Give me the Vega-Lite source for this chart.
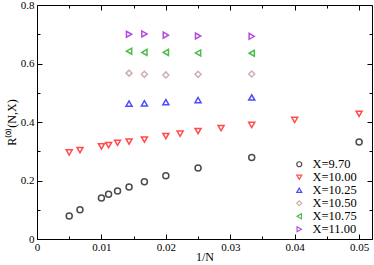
{
  "$schema": "https://vega.github.io/schema/vega-lite/v6.json",
  "autosize": "none",
  "padding": {"left": 37, "top": 5, "right": 2, "bottom": 26},
  "width": 335,
  "height": 234,
  "config": {
    "view": {"stroke": "black", "strokeWidth": 1},
    "font": "Liberation Serif",
    "axis": {"labelFont": "Liberation Serif", "titleFont": "Liberation Serif", "labelColor": "black", "titleColor": "black", "domainColor": "black", "tickColor": "black", "labelFontSize": 11, "titleFontSize": 12, "titleFontWeight": "normal", "grid": false},
    "legend": {"labelFont": "Liberation Serif", "labelFontSize": 12.5, "labelColor": "black", "symbolSize": 25, "symbolStrokeWidth": 1.2, "rowPadding": 0, "labelOffset": 7}
  },
  "data": {"values": [
    {"invN": 0.005, "R": 0.0785, "s": "X=9.70"},
    {"invN": 0.00667, "R": 0.100, "s": "X=9.70"},
    {"invN": 0.01, "R": 0.140, "s": "X=9.70"},
    {"invN": 0.01111, "R": 0.153, "s": "X=9.70"},
    {"invN": 0.0125, "R": 0.164, "s": "X=9.70"},
    {"invN": 0.01429, "R": 0.178, "s": "X=9.70"},
    {"invN": 0.01667, "R": 0.196, "s": "X=9.70"},
    {"invN": 0.02, "R": 0.216, "s": "X=9.70"},
    {"invN": 0.025, "R": 0.243, "s": "X=9.70"},
    {"invN": 0.03333, "R": 0.279, "s": "X=9.70"},
    {"invN": 0.05, "R": 0.332, "s": "X=9.70"},
    {"invN": 0.005, "R": 0.296, "s": "X=10.00"},
    {"invN": 0.00667, "R": 0.304, "s": "X=10.00"},
    {"invN": 0.01, "R": 0.317, "s": "X=10.00"},
    {"invN": 0.01111, "R": 0.321, "s": "X=10.00"},
    {"invN": 0.0125, "R": 0.329, "s": "X=10.00"},
    {"invN": 0.01429, "R": 0.333, "s": "X=10.00"},
    {"invN": 0.01667, "R": 0.340, "s": "X=10.00"},
    {"invN": 0.02, "R": 0.352, "s": "X=10.00"},
    {"invN": 0.02222, "R": 0.360, "s": "X=10.00"},
    {"invN": 0.025, "R": 0.369, "s": "X=10.00"},
    {"invN": 0.02857, "R": 0.379, "s": "X=10.00"},
    {"invN": 0.03333, "R": 0.390, "s": "X=10.00"},
    {"invN": 0.04, "R": 0.407, "s": "X=10.00"},
    {"invN": 0.05, "R": 0.428, "s": "X=10.00"},
    {"invN": 0.01429, "R": 0.463, "s": "X=10.25"},
    {"invN": 0.01667, "R": 0.464, "s": "X=10.25"},
    {"invN": 0.02, "R": 0.468, "s": "X=10.25"},
    {"invN": 0.025, "R": 0.475, "s": "X=10.25"},
    {"invN": 0.03333, "R": 0.484, "s": "X=10.25"},
    {"invN": 0.01429, "R": 0.567, "s": "X=10.50"},
    {"invN": 0.01667, "R": 0.563, "s": "X=10.50"},
    {"invN": 0.02, "R": 0.561, "s": "X=10.50"},
    {"invN": 0.025, "R": 0.563, "s": "X=10.50"},
    {"invN": 0.03333, "R": 0.564, "s": "X=10.50"},
    {"invN": 0.01429, "R": 0.642, "s": "X=10.75"},
    {"invN": 0.01667, "R": 0.638, "s": "X=10.75"},
    {"invN": 0.02, "R": 0.638, "s": "X=10.75"},
    {"invN": 0.025, "R": 0.636, "s": "X=10.75"},
    {"invN": 0.03333, "R": 0.635, "s": "X=10.75"},
    {"invN": 0.01429, "R": 0.700, "s": "X=11.00"},
    {"invN": 0.01667, "R": 0.701, "s": "X=11.00"},
    {"invN": 0.02, "R": 0.697, "s": "X=11.00"},
    {"invN": 0.025, "R": 0.694, "s": "X=11.00"},
    {"invN": 0.03333, "R": 0.693, "s": "X=11.00"}
  ]},
  "resolve": {"axis": {"x": "independent", "y": "independent"}},
  "layer": [
    {
      "mark": {"type": "point", "filled": false, "strokeWidth": 1.5, "size": 36},
      "encoding": {
        "x": {"field": "invN", "type": "quantitative", "scale": {"domain": [0, 0.052], "nice": false, "zero": false},
          "axis": {"orient": "bottom", "title": "1/N", "values": [0, 0.005, 0.01, 0.015, 0.02, 0.025, 0.03, 0.035, 0.04, 0.045, 0.05],
            "labelExpr": "(round(datum.value*1000) % 10 == 0) ? (datum.value == 0 ? '0' : format(datum.value, '.2f')) : ''",
            "tickSize": {"condition": {"test": "round(datum.value*1000) % 10 != 0", "value": -3}, "value": -5},
            "labelPadding": 7, "titlePadding": 0, "titleBaseline": "bottom", "titleY": 24, "domain": false, "labelFlush": false}},
        "y": {"field": "R", "type": "quantitative", "scale": {"domain": [0, 0.8], "nice": false},
          "axis": {"orient": "left", "title": "R⁽⁰⁾(N,X)", "values": [0, 0.1, 0.2, 0.3, 0.4, 0.5, 0.6, 0.7, 0.8],
            "labelExpr": "(round(datum.value*10) % 2 == 0) ? (datum.value == 0 ? '0' : format(datum.value, '.1f')) : ''",
            "tickSize": {"condition": {"test": "round(datum.value*10) % 2 != 0", "value": -3}, "value": -5},
            "labelPadding": 8, "titlePadding": 2, "domain": false, "labelFlush": false}},
        "color": {"field": "s", "type": "nominal",
          "scale": {"domain": ["X=9.70", "X=10.00", "X=10.25", "X=10.50", "X=10.75", "X=11.00"], "range": ["#000000", "#ff0000", "#0000ff", "#bc8f8f", "#00a000", "#9400d3"]},
          "legend": {"title": null, "orient": "none", "legendX": 256, "legendY": 153}},
        "shape": {"field": "s", "type": "nominal",
          "scale": {"domain": ["X=9.70", "X=10.00", "X=10.25", "X=10.50", "X=10.75", "X=11.00"], "range": ["circle", "triangle-down", "triangle-up", "diamond", "triangle-left", "triangle-right"]},
          "legend": {"title": null, "orient": "none", "legendX": 256, "legendY": 153}}
      }
    },
    {
      "mark": {"type": "point", "opacity": 0},
      "encoding": {
        "x": {"field": "invN", "type": "quantitative",
          "axis": {"orient": "top", "title": null, "labels": false, "values": [0, 0.005, 0.01, 0.015, 0.02, 0.025, 0.03, 0.035, 0.04, 0.045, 0.05],
            "tickSize": {"condition": {"test": "round(datum.value*1000) % 10 != 0", "value": -3}, "value": -5}, "domain": false}},
        "y": {"field": "R", "type": "quantitative",
          "axis": {"orient": "right", "title": null, "labels": false, "values": [0, 0.1, 0.2, 0.3, 0.4, 0.5, 0.6, 0.7, 0.8],
            "tickSize": {"condition": {"test": "round(datum.value*10) % 2 != 0", "value": -3}, "value": -5}, "domain": false}}
      }
    }
  ]
}
